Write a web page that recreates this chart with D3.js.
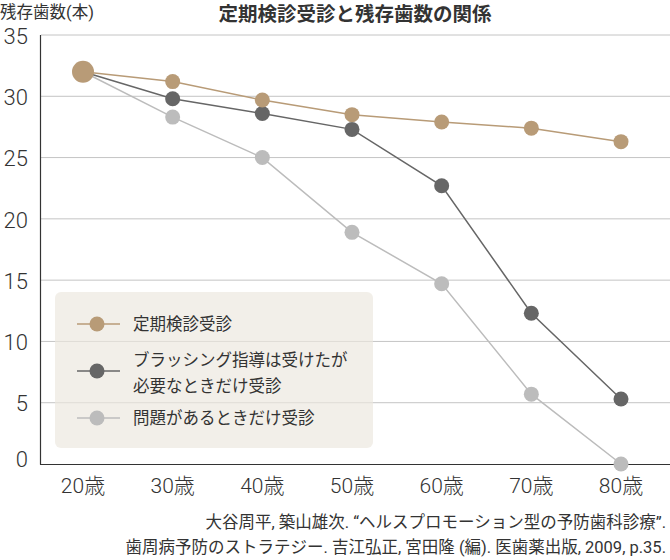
<!DOCTYPE html>
<html>
<head>
<meta charset="utf-8">
<script src="https://cdn.jsdelivr.net/npm/d3@7"></script>
<style>
  body { margin: 0; background: #fff; }
  svg { display: block; font-family: Roboto, "Noto Sans CJK JP", "Noto Sans", sans-serif; }
</style>
</head>
<body>
<div id="chart"></div>
<script>
// ages on the x axis
var ages = ['20歳', '30歳', '40歳', '50歳', '60歳', '70歳', '80歳'];
var yTicks = [0, 5, 10, 15, 20, 25, 30, 35];

// remaining teeth per group
var regular = [32, 31.2, 29.7, 28.5, 27.9, 27.4, 26.3];
var brushing = [32, 29.8, 28.6, 27.3, 22.7, 12.3, 5.3];
var problem = [32, 28.3, 25.0, 18.9, 14.7, 5.7, 0];

var seriesNames = ['定期検診受診', ['ブラッシング指導は受けたが', '必要なときだけ受診'], '問題があるときだけ受診'];
var seriesColors = ['#b89b77', '#666666', '#bcbcbc'];

var width = 670, height = 560;
var svg = d3.select('#chart').append('svg')
  .attr('width', width)
  .attr('height', height);

var x = d3.scalePoint().domain(ages).range([83, 621]);
var y = d3.scaleLinear().domain([0, 35]).range([464, 35]);

// grid lines
svg.append('g').selectAll('line')
  .data(yTicks.filter(function(d) { return d > 0; }))
  .enter().append('line')
  .attr('x1', 41).attr('x2', width)
  .attr('y1', function(d) { return y(d); })
  .attr('y2', function(d) { return y(d); })
  .style('stroke', '#c4c4c4')
  .style('stroke-width', 1);

// y tick labels
svg.append('g').selectAll('text')
  .data(yTicks)
  .enter().append('text')
  .attr('x', 28)
  .attr('y', function(d) { return y(d) + (d === 0 ? -5 : 1); })
  .attr('dy', '0.35em')
  .attr('text-anchor', 'end')
  .style('font-size', '22px')
  .style('font-weight', 300)
  .style('fill', '#333')
  .text(function(d) { return d; });

// x labels
svg.append('g').selectAll('text')
  .data(ages)
  .enter().append('text')
  .attr('x', function(d) { return x(d); })
  .attr('y', 486)
  .attr('dy', '0.35em')
  .attr('text-anchor', 'middle')
  .style('font-size', '21px')
  .style('font-weight', 300)
  .style('fill', '#333')
  .text(function(d) { return d; });

// legend box (drawn over grid, slightly see-through)
var legend = svg.append('g');
legend.append('rect')
  .attr('x', 55).attr('y', 292)
  .attr('width', 318).attr('height', 156)
  .attr('rx', 6)
  .style('fill', 'rgb(236,231,223)')
  .style('fill-opacity', 0.68);

var legendY = [324, 371, 418];
seriesColors.forEach(function(c, i) {
  legend.append('line')
    .attr('x1', 77).attr('x2', 120)
    .attr('y1', legendY[i]).attr('y2', legendY[i])
    .style('stroke', c).style('stroke-width', 1.5);
  legend.append('circle')
    .attr('cx', 97).attr('cy', legendY[i]).attr('r', 7.5)
    .style('fill', c);
  var label = seriesNames[i];
  var t = legend.append('text')
    .attr('x', 133)
    .style('font-size', '16.5px')
    .style('fill', '#333');
  if (Array.isArray(label)) {
    label.forEach(function(s, j) {
      t.append('tspan')
        .attr('x', 133)
        .attr('y', legendY[i] - 11 + j * 26)
        .attr('dy', '0.35em')
        .text(s);
    });
  } else {
    t.attr('y', legendY[i]).attr('dy', '0.35em').text(label);
  }
});

// axes lines
svg.append('line')
  .attr('x1', 40.5).attr('x2', 40.5).attr('y1', 35).attr('y2', 464.5)
  .style('stroke', '#333').style('stroke-width', 1.2);
svg.append('line')
  .attr('x1', 40).attr('x2', width).attr('y1', 464.5).attr('y2', 464.5)
  .style('stroke', '#333').style('stroke-width', 1.2);

// series lines and points, lightest first
var allSeries = [regular, brushing, problem];
var line = d3.line()
  .x(function(d, i) { return x(ages[i]); })
  .y(function(d) { return y(d); });

[2, 1, 0].forEach(function(k) {
  svg.append('path')
    .datum(allSeries[k])
    .attr('d', line)
    .style('fill', 'none')
    .style('stroke', seriesColors[k])
    .style('stroke-width', 1.5);
  svg.append('g').selectAll('circle')
    .data(allSeries[k].slice(1))
    .enter().append('circle')
    .attr('cx', function(d, i) { return x(ages[i + 1]); })
    .attr('cy', function(d) { return y(d); })
    .attr('r', 7.5)
    .style('fill', seriesColors[k]);
});

// shared start point
svg.append('circle')
  .attr('cx', x(ages[0]))
  .attr('cy', y(regular[0]))
  .attr('r', 11)
  .style('fill', seriesColors[0]);

// titles
svg.append('text')
  .attr('x', 0).attr('y', 12).attr('dy', '0.35em')
  .style('font-size', '16.5px')
  .style('fill', '#333')
  .text('残存歯数(本)');

svg.append('text')
  .attr('x', 355).attr('y', 14).attr('dy', '0.35em')
  .attr('text-anchor', 'middle')
  .style('font-size', '19.5px')
  .style('font-weight', 'bold')
  .style('fill', '#333')
  .text('定期検診受診と残存歯数の関係');

// source
var source = ['大谷周平, 築山雄次. “ヘルスプロモーション型の予防歯科診療”.',
  '歯周病予防のストラテジー. 吉江弘正, 宮田隆 (編). 医歯薬出版, 2009, p.35.'];
svg.append('g').selectAll('text')
  .data(source)
  .enter().append('text')
  .attr('x', 666)
  .attr('y', function(d, i) { return 522 + i * 25; })
  .attr('dy', '0.35em')
  .attr('text-anchor', 'end')
  .style('font-size', '16.5px')
  .style('fill', '#333')
  .text(function(d) { return d; });
</script>
</body>
</html>
